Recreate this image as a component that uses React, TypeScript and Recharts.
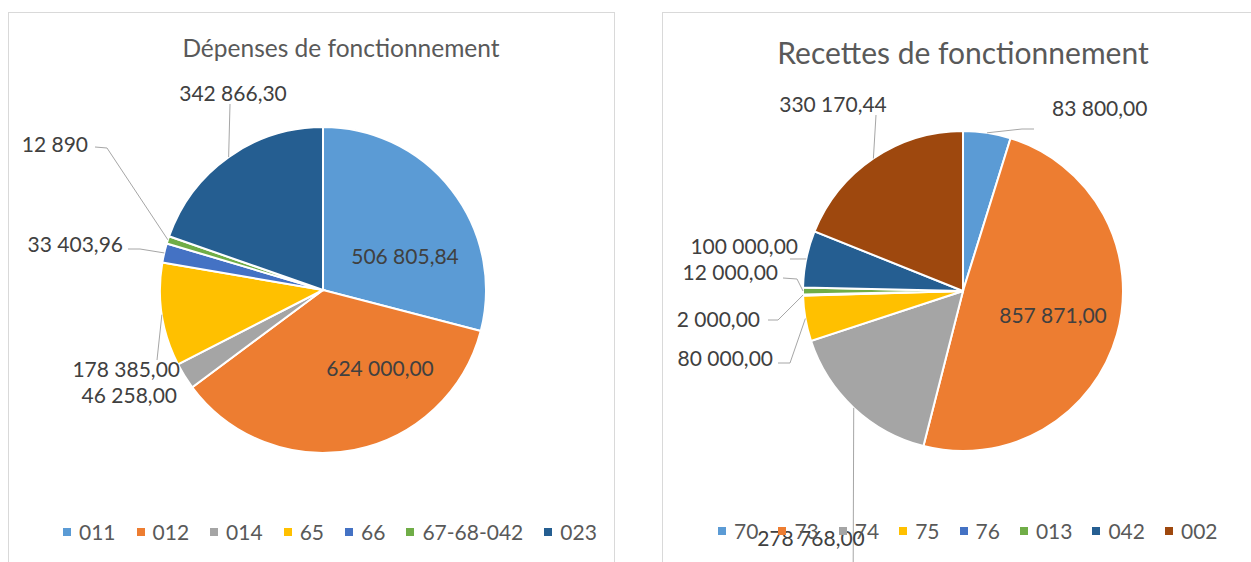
import { PieChart, Pie, Cell, Legend } from "recharts"

const depensesCategories = ["011", "012", "014", "65", "66", "67-68-042", "023"]
const depensesValues = [506805.84, 624000, 46258, 178385, 33403.96, 12890, 342866.3]
const depensesLabels = ["506 805,84", "624 000,00", "46 258,00", "178 385,00", "33 403,96", "12 890", "342 866,30"]

const recettesCategories = ["70", "73", "74", "75", "76", "013", "042", "002"]
const recettesValues = [83800, 857871, 278768, 80000, 2000, 12000, 100000, 330170.44]
const recettesLabels = ["83 800,00", "857 871,00", "278 768,00", "80 000,00", "2 000,00", "12 000,00", "100 000,00", "330 170,44"]

const officeColors = ["#5B9BD5", "#ED7D31", "#A5A5A5", "#FFC000", "#4472C4", "#70AD47", "#255E91", "#9E480E"]

const FONT = "Lato, 'Open Sans', sans-serif"
const RAD = Math.PI / 180

type Spot = { x: number; y: number; anchor: "start" | "middle" | "end"; leader?: number[][] }

// where each data label sits, relative to the pie centre (Excel puts them by hand-ish)
const depensesSpots: Spot[] = [
  { x: 82, y: -35, anchor: "middle" },
  { x: 57, y: 77, anchor: "middle" },
  { x: -146, y: 104, anchor: "end" },
  { x: -143, y: 78, anchor: "end", leader: [[-166, 70]] },
  { x: -200, y: -47, anchor: "end", leader: [[-183, -41], [-195, -41]] },
  { x: -235, y: -147, anchor: "end", leader: [[-216, -142], [-228, -143]] },
  { x: -90, y: -198, anchor: "middle", leader: [[-93, -186]] },
]

const recettesSpots: Spot[] = [
  { x: 89, y: -184, anchor: "start", leader: [[59, -162], [71, -162]] },
  { x: 90, y: 23, anchor: "middle" },
  { x: -152, y: 246, anchor: "middle", leader: [[-110, 330]] },
  { x: -190, y: 66, anchor: "end", leader: [[-173, 72], [-185, 72]] },
  { x: -203, y: 27, anchor: "end", leader: [[-185, 29], [-195, 29]] },
  { x: -185, y: -20, anchor: "end", leader: [[-166, -12], [-180, -13]] },
  { x: -165, y: -46, anchor: "end", leader: [[-173, -32]] },
  { x: -130, y: -188, anchor: "middle", leader: [[-87, -176]] },
]

function makeLabel(texts: string[], spots: Spot[]) {
  return (props: any) => {
    const { cx, cy, midAngle, outerRadius, index } = props
    const spot = spots[index]
    const sx = cx + outerRadius * Math.cos(-midAngle * RAD)
    const sy = cy + outerRadius * Math.sin(-midAngle * RAD)
    const pts = spot.leader ? [[sx, sy], ...spot.leader.map(([x, y]) => [cx + x, cy + y])] : null
    return (
      <g key={`lbl-${index}`}>
        {pts && (
          <polyline points={pts.map((p) => p.join(",")).join(" ")} fill="none" stroke="#a6a6a6" strokeWidth={1} />
        )}
        <text
          x={cx + spot.x}
          y={cy + spot.y}
          textAnchor={spot.anchor}
          dominantBaseline="central"
          fill="#404040"
          fontSize={21}
          fontFamily={FONT}
        >
          {texts[index]}
        </text>
      </g>
    )
  }
}

// legend keeps the data order (recharts would sort it by name otherwise)
function makeLegend(names: string[], colors: string[], gap: number) {
  return () => (
    <div style={{ display: "flex", alignItems: "center", fontFamily: FONT, fontSize: 21, lineHeight: "24px", color: "#595959", whiteSpace: "nowrap" }}>
      {names.map((name, i) => (
        <span key={name} style={{ display: "inline-flex", alignItems: "center", marginRight: gap }}>
          <span style={{ width: 8, height: 8, background: colors[i], marginRight: 8, display: "inline-block" }} />
          {name}
        </span>
      ))}
    </div>
  )
}

const depensesData = depensesCategories.map((name, i) => ({ name, value: depensesValues[i] }))
const recettesData = recettesCategories.map((name, i) => ({ name, value: recettesValues[i] }))

const frame = { position: "absolute" as const, border: "1px solid #d9d9d9", height: 620, top: 12 }

export default function App() {
  return (
    <div style={{ position: "absolute", left: 0, top: 0, width: 1251, height: 562, overflow: "hidden", background: "#fff" }}>
      <div style={{ ...frame, left: 8, width: 605 }} />
      <div style={{ ...frame, left: 662, width: 700 }} />

      <div style={{ position: "absolute", left: 41, width: 600, top: 33, textAlign: "center", fontFamily: FONT, fontSize: 24.5, lineHeight: "30px", color: "#595959" }}>
        Dépenses de fonctionnement
      </div>
      <div style={{ position: "absolute", left: 663, width: 600, top: 34, textAlign: "center", fontFamily: FONT, fontSize: 30, lineHeight: "36px", color: "#595959" }}>
        Recettes de fonctionnement
      </div>

      <div style={{ position: "absolute", left: 0, top: 0 }}>
        <PieChart width={640} height={562}>
          <Pie
            data={depensesData}
            dataKey="value"
            nameKey="name"
            cx={318}
            cy={285}
            outerRadius={163}
            startAngle={90}
            endAngle={-270}
            stroke="#fff"
            strokeWidth={2}
            label={makeLabel(depensesLabels, depensesSpots)}
            labelLine={false}
            isAnimationActive={false}
          >
            {depensesData.map((d, i) => (
              <Cell key={d.name} fill={officeColors[i]} />
            ))}
          </Pie>
          <Legend
            content={makeLegend(depensesCategories, officeColors, 21)}
            wrapperStyle={{ left: 63, top: 520, width: 570, height: 24 }}
          />
        </PieChart>
      </div>

      <div style={{ position: "absolute", left: 640, top: 0 }}>
        <PieChart width={611} height={562}>
          <Pie
            data={recettesData}
            dataKey="value"
            nameKey="name"
            cx={318}
            cy={286}
            outerRadius={160}
            startAngle={90}
            endAngle={-270}
            stroke="#fff"
            strokeWidth={2}
            label={makeLabel(recettesLabels, recettesSpots)}
            labelLine={false}
            isAnimationActive={false}
          >
            {recettesData.map((d, i) => (
              <Cell key={d.name} fill={officeColors[i]} />
            ))}
          </Pie>
          <Legend
            content={makeLegend(recettesCategories, officeColors, 20)}
            wrapperStyle={{ left: 78, top: 519, width: 520, height: 24 }}
          />
        </PieChart>
      </div>
    </div>
  )
}
